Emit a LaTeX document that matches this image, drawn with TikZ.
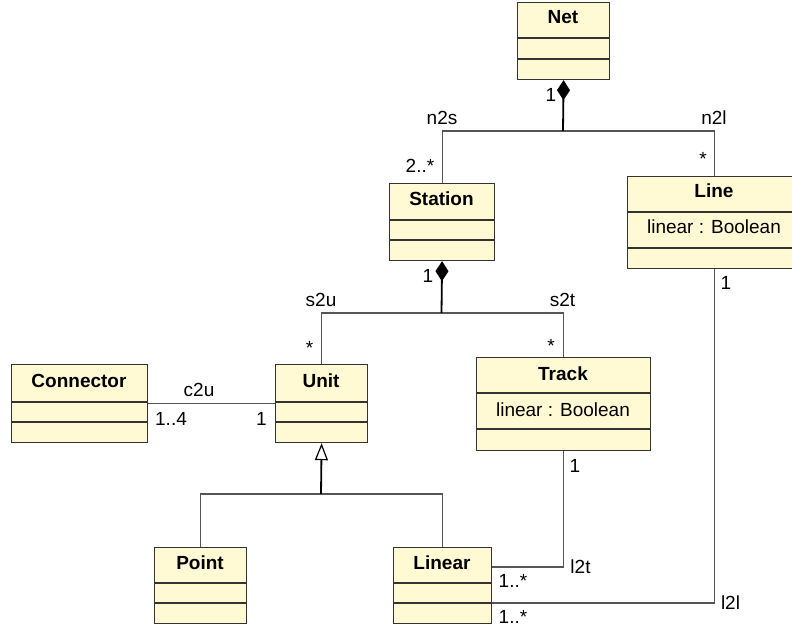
\documentclass[tikz,border=0pt]{standalone}
\usepackage{fontspec}
\setmainfont{Liberation Sans}
\usetikzlibrary{arrows.meta}
\definecolor{classfill}{HTML}{FFFAD4}
\definecolor{classline}{HTML}{333333}
\definecolor{assocgray}{HTML}{555555}
\begin{document}
\begin{tikzpicture}[x=0.5pt,y=-0.5pt,
  classbox/.style={draw=classline, fill=classfill, line width=0.6pt, rectangle, inner sep=0pt, anchor=north west},
  sepline/.style={draw=classline, line width=0.6pt},
  title/.style={font=\bfseries\fontsize{9.5}{11}\selectfont, anchor=base, inner sep=0pt},
  attr/.style={font=\fontsize{9.5}{11}\selectfont, anchor=base, inner sep=0pt},
  lbl/.style={font=\fontsize{9.5}{11}\selectfont, anchor=base, inner sep=0pt},
  assoc/.style={draw=assocgray, line width=0.55pt},
  stem/.style={draw=black, line width=0.9pt},
  comp/.style={stem, {Diamond[length=10pt,width=6.5pt]}-},
  gen/.style={stem, {Triangle[open,fill=white,length=8.5pt,width=6.5pt,line width=0.6pt]}-}
]
\useasboundingbox (0,0) rectangle (792,630);
\clip (0,0) rectangle (792,630);

% Net
\node[classbox, minimum width=46pt, minimum height=38.5pt] (net) at (517,2) {};
\node[title] (netT) at (563,24) {Net};
\draw[sepline] (net.west |- 0,38) -- (net.east |- 0,38);
\draw[sepline] (net.west |- 0,59) -- (net.east |- 0,59);

% Station
\node[classbox, minimum width=52.5pt, minimum height=38.5pt] (station) at (389,183) {};
\node[title] (stationT) at (441.5,206) {Station};
\draw[sepline] (station.west |- 0,220) -- (station.east |- 0,220);
\draw[sepline] (station.west |- 0,240) -- (station.east |- 0,240);

% Line
\node[classbox, minimum width=87pt, minimum height=46pt] (line) at (627,176) {};
\node[title] (lineT) at (714,198) {Line};
\node[attr] (lineA) at (714,234) {linear : Boolean};
\draw[sepline] (line.west |- 0,212) -- (line.east |- 0,212);
\draw[sepline] (line.west |- 0,248) -- (line.east |- 0,248);

% Connector
\node[classbox, minimum width=68pt, minimum height=39pt] (connector) at (11,364) {};
\node[title] (connectorT) at (79,387) {Connector};
\draw[sepline] (connector.west |- 0,402) -- (connector.east |- 0,402);
\draw[sepline] (connector.west |- 0,422) -- (connector.east |- 0,422);

% Unit
\node[classbox, minimum width=46pt, minimum height=39pt] (unit) at (275,364) {};
\node[title] (unitT) at (321,387) {Unit};
\draw[sepline] (unit.west |- 0,402) -- (unit.east |- 0,402);
\draw[sepline] (unit.west |- 0,422) -- (unit.east |- 0,422);

% Track
\node[classbox, minimum width=87pt, minimum height=46.5pt] (track) at (476,357) {};
\node[title] (trackT) at (563,380) {Track};
\node[attr] (trackA) at (563,416) {linear : Boolean};
\draw[sepline] (track.west |- 0,393) -- (track.east |- 0,393);
\draw[sepline] (track.west |- 0,429) -- (track.east |- 0,429);

% Point
\node[classbox, minimum width=46pt, minimum height=38pt] (point) at (154,547) {};
\node[title] (pointT) at (200,569) {Point};
\draw[sepline] (point.west |- 0,583) -- (point.east |- 0,583);
\draw[sepline] (point.west |- 0,603) -- (point.east |- 0,603);

% Linear
\node[classbox, minimum width=49pt, minimum height=38pt] (linear) at (393,547) {};
\node[title] (linearT) at (442,569) {Linear};
\draw[sepline] (linear.west |- 0,583) -- (linear.east |- 0,583);
\draw[sepline] (linear.west |- 0,603) -- (linear.east |- 0,603);

% junctions
\coordinate (netj) at (563,131);
\coordinate (stj) at (441.5,313);
\coordinate (genj) at (321,494);

% connectors
\draw[assoc] (station.north) |- (netj) -| (line.north);
\draw[comp] (net.south) -- (netj);
\draw[assoc] (unit.north) |- (stj) -| (track.north);
\draw[comp] (station.south) -- (stj);
\draw[assoc] (connector.east) -- (unit.west);
\draw[assoc] (point.north) |- (genj) -| (linear.north);
\draw[gen] (unit.south) -- (genj);
\draw[assoc] (track.south) |- ([yshift=-10pt]linear.north east);
\draw[assoc] (line.south) |- ([yshift=-28pt]linear.north east);

% labels
\node[lbl] (lbNet1) at (551,102) {1};
\node[lbl] (lbN2s) at (442,125) {n2s};
\node[lbl] (lbN2l) at (714,125) {n2l};
\node[lbl] (lbLineStar) at (703,166) {*};
\node[lbl] (lbSt2) at (420,173) {2..*};
\node[lbl] (lbSt1) at (428,283) {1};
\node[lbl] (lbS2u) at (321,307) {s2u};
\node[lbl] (lbS2t) at (562.5,307) {s2t};
\node[lbl] (lbUStar) at (309.5,355) {*};
\node[lbl] (lbTStar) at (551,353) {*};
\node[lbl] (lbC2u) at (199,397) {c2u};
\node[lbl] (lbC14) at (171,425) {1..4};
\node[lbl] (lbU1) at (261.5,425) {1};
\node[lbl] (lbT1) at (575,472) {1};
\node[lbl] (lbL1) at (726,290) {1};
\node[lbl] (lbL2t) at (580.5,573) {l2t};
\node[lbl] (lbLin1) at (513,587) {1..*};
\node[lbl] (lbL2l) at (730.5,609) {l2l};
\node[lbl] (lbLin2) at (513,623) {1..*};
\end{tikzpicture}
\end{document}
